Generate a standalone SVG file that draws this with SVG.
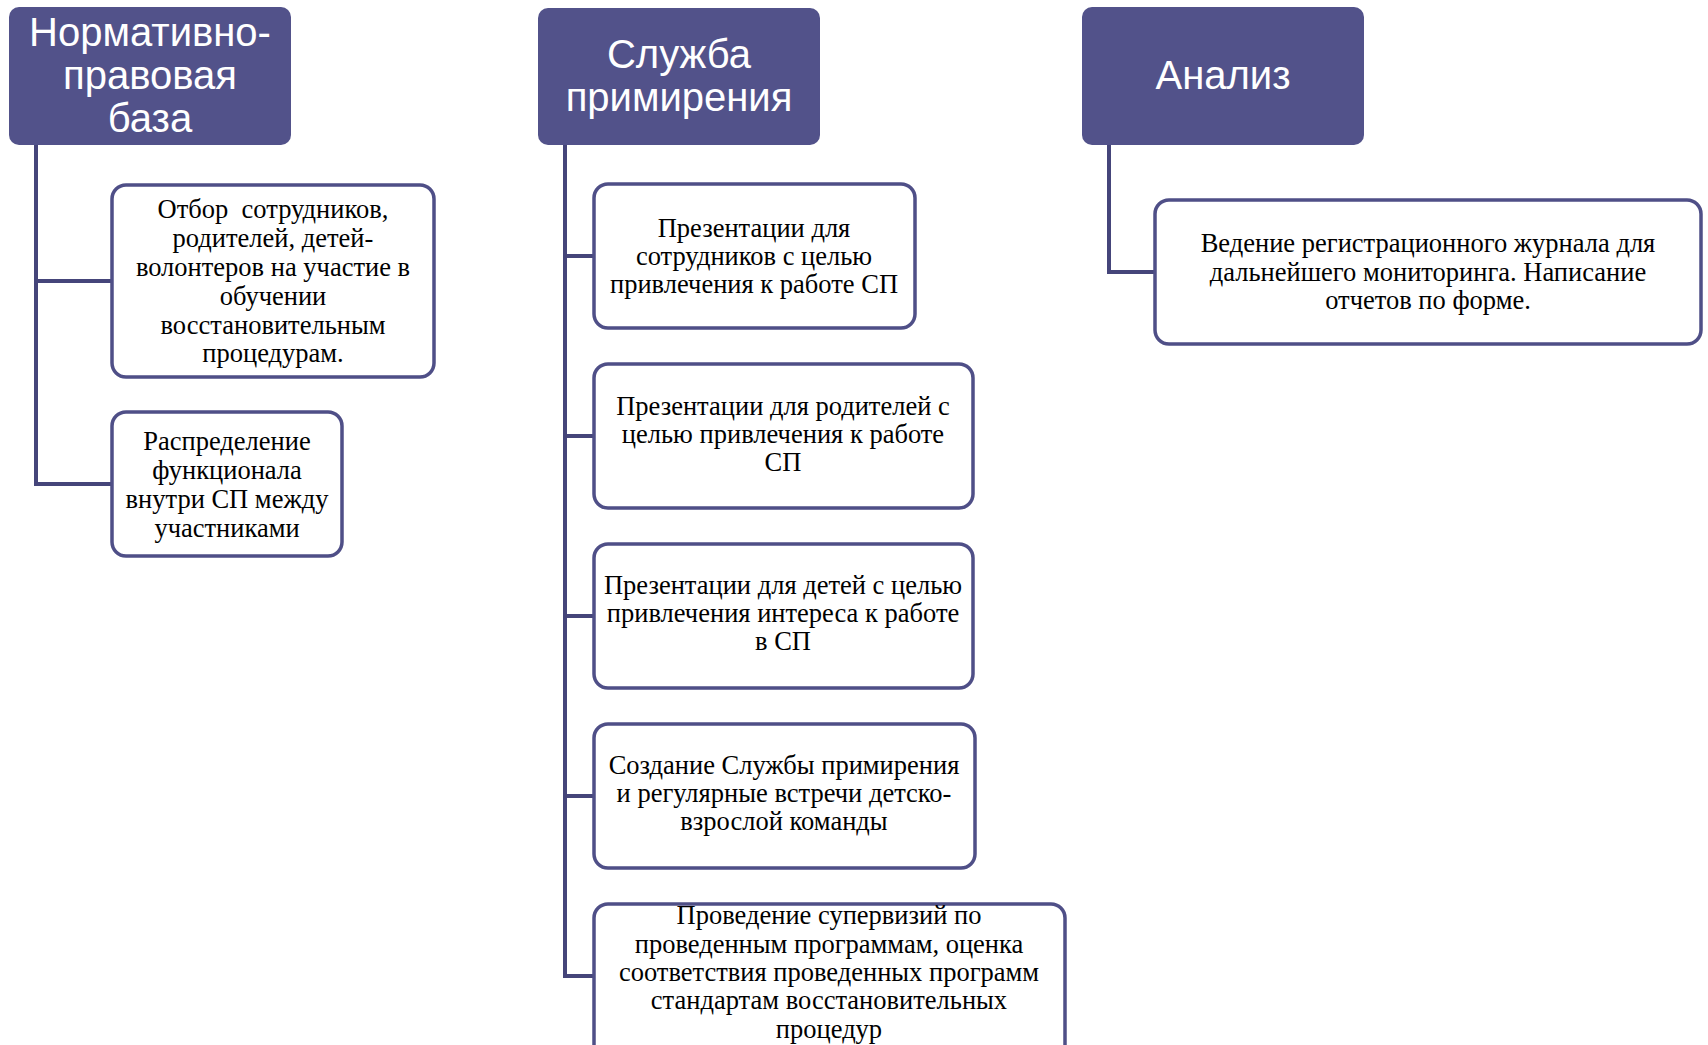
<svg xmlns="http://www.w3.org/2000/svg" width="1708" height="1045" viewBox="0 0 1708 1045">
<style>
.hdr{fill:#52528a;}
.ht{font-family:"Liberation Sans",Arial,sans-serif;font-size:40px;fill:#ffffff;text-anchor:middle;}
.box{fill:#ffffff;stroke:#4f4f87;stroke-width:3.5;}
.bt{font-family:"Liberation Serif","Times New Roman",serif;font-size:26.5px;fill:#000000;text-anchor:middle;}
.con{fill:none;stroke:#45457a;stroke-width:4;}
</style>
<rect width="1708" height="1045" fill="#ffffff"/>
<g id="connectors">
<path class="con" d="M36,145 V484 H112 M36,281 H112"/>
<path class="con" d="M565,145 V976 H594 M565,256 H594 M565,436 H594 M565,616 H594 M565,796 H594"/>
<path class="con" d="M1109,145 V272 H1155"/>
</g>
<g id="h1">
<rect class="hdr" x="9" y="7" width="282" height="138" rx="10"/>
<text class="ht"><tspan x="150" y="46">Нормативно-</tspan><tspan x="150" y="89">правовая</tspan><tspan x="150" y="132">база</tspan></text>
</g>
<g id="h2">
<rect class="hdr" x="538" y="8" width="282" height="137" rx="10"/>
<text class="ht"><tspan x="679" y="68">Служба</tspan><tspan x="679" y="111">примирения</tspan></text>
</g>
<g id="h3">
<rect class="hdr" x="1082" y="7" width="282" height="138" rx="10"/>
<text class="ht"><tspan x="1223" y="89">Анализ</tspan></text>
</g>
<g id="n1">
<rect class="box" x="112" y="185" width="322" height="192" rx="14"/>
<text class="bt" xml:space="preserve"><tspan x="273" y="218">Отбор  сотрудников,</tspan><tspan x="273" y="247">родителей, детей-</tspan><tspan x="273" y="276">волонтеров на участие в</tspan><tspan x="273" y="305">обучении</tspan><tspan x="273" y="334">восстановительным</tspan><tspan x="273" y="362">процедурам.</tspan></text>
</g>
<g id="n2">
<rect class="box" x="112" y="412" width="230" height="144" rx="14"/>
<text class="bt"><tspan x="227" y="450">Распределение</tspan><tspan x="227" y="479">функционала</tspan><tspan x="227" y="508">внутри СП между</tspan><tspan x="227" y="537">участниками</tspan></text>
</g>
<g id="n3">
<rect class="box" x="594" y="184" width="321" height="144" rx="14"/>
<text class="bt"><tspan x="754" y="237">Презентации для</tspan><tspan x="754" y="265">сотрудников с целью</tspan><tspan x="754" y="293">привлечения к работе СП</tspan></text>
</g>
<g id="n4">
<rect class="box" x="594" y="364" width="379" height="144" rx="14"/>
<text class="bt"><tspan x="783" y="415">Презентации для родителей с</tspan><tspan x="783" y="443">целью привлечения к работе</tspan><tspan x="783" y="471">СП</tspan></text>
</g>
<g id="n5">
<rect class="box" x="594" y="544" width="379" height="144" rx="14"/>
<text class="bt"><tspan x="783" y="594">Презентации для детей с целью</tspan><tspan x="783" y="622">привлечения интереса к работе</tspan><tspan x="783" y="650">в СП</tspan></text>
</g>
<g id="n6">
<rect class="box" x="594" y="724" width="381" height="144" rx="14"/>
<text class="bt"><tspan x="784" y="774">Создание Службы примирения</tspan><tspan x="784" y="802">и регулярные встречи детско-</tspan><tspan x="784" y="830">взрослой команды</tspan></text>
</g>
<g id="n7">
<rect class="box" x="594" y="904" width="471" height="170" rx="14"/>
<text class="bt"><tspan x="829" y="924">Проведение супервизий по</tspan><tspan x="829" y="953">проведенным программам, оценка</tspan><tspan x="829" y="981">соответствия проведенных программ</tspan><tspan x="829" y="1009">стандартам восстановительных</tspan><tspan x="829" y="1038">процедур</tspan></text>
</g>
<g id="n8">
<rect class="box" x="1155" y="200" width="546" height="144" rx="14"/>
<text class="bt"><tspan x="1428" y="252">Ведение регистрационного журнала для</tspan><tspan x="1428" y="281">дальнейшего мониторинга. Написание</tspan><tspan x="1428" y="309">отчетов по форме.</tspan></text>
</g>
</svg>
